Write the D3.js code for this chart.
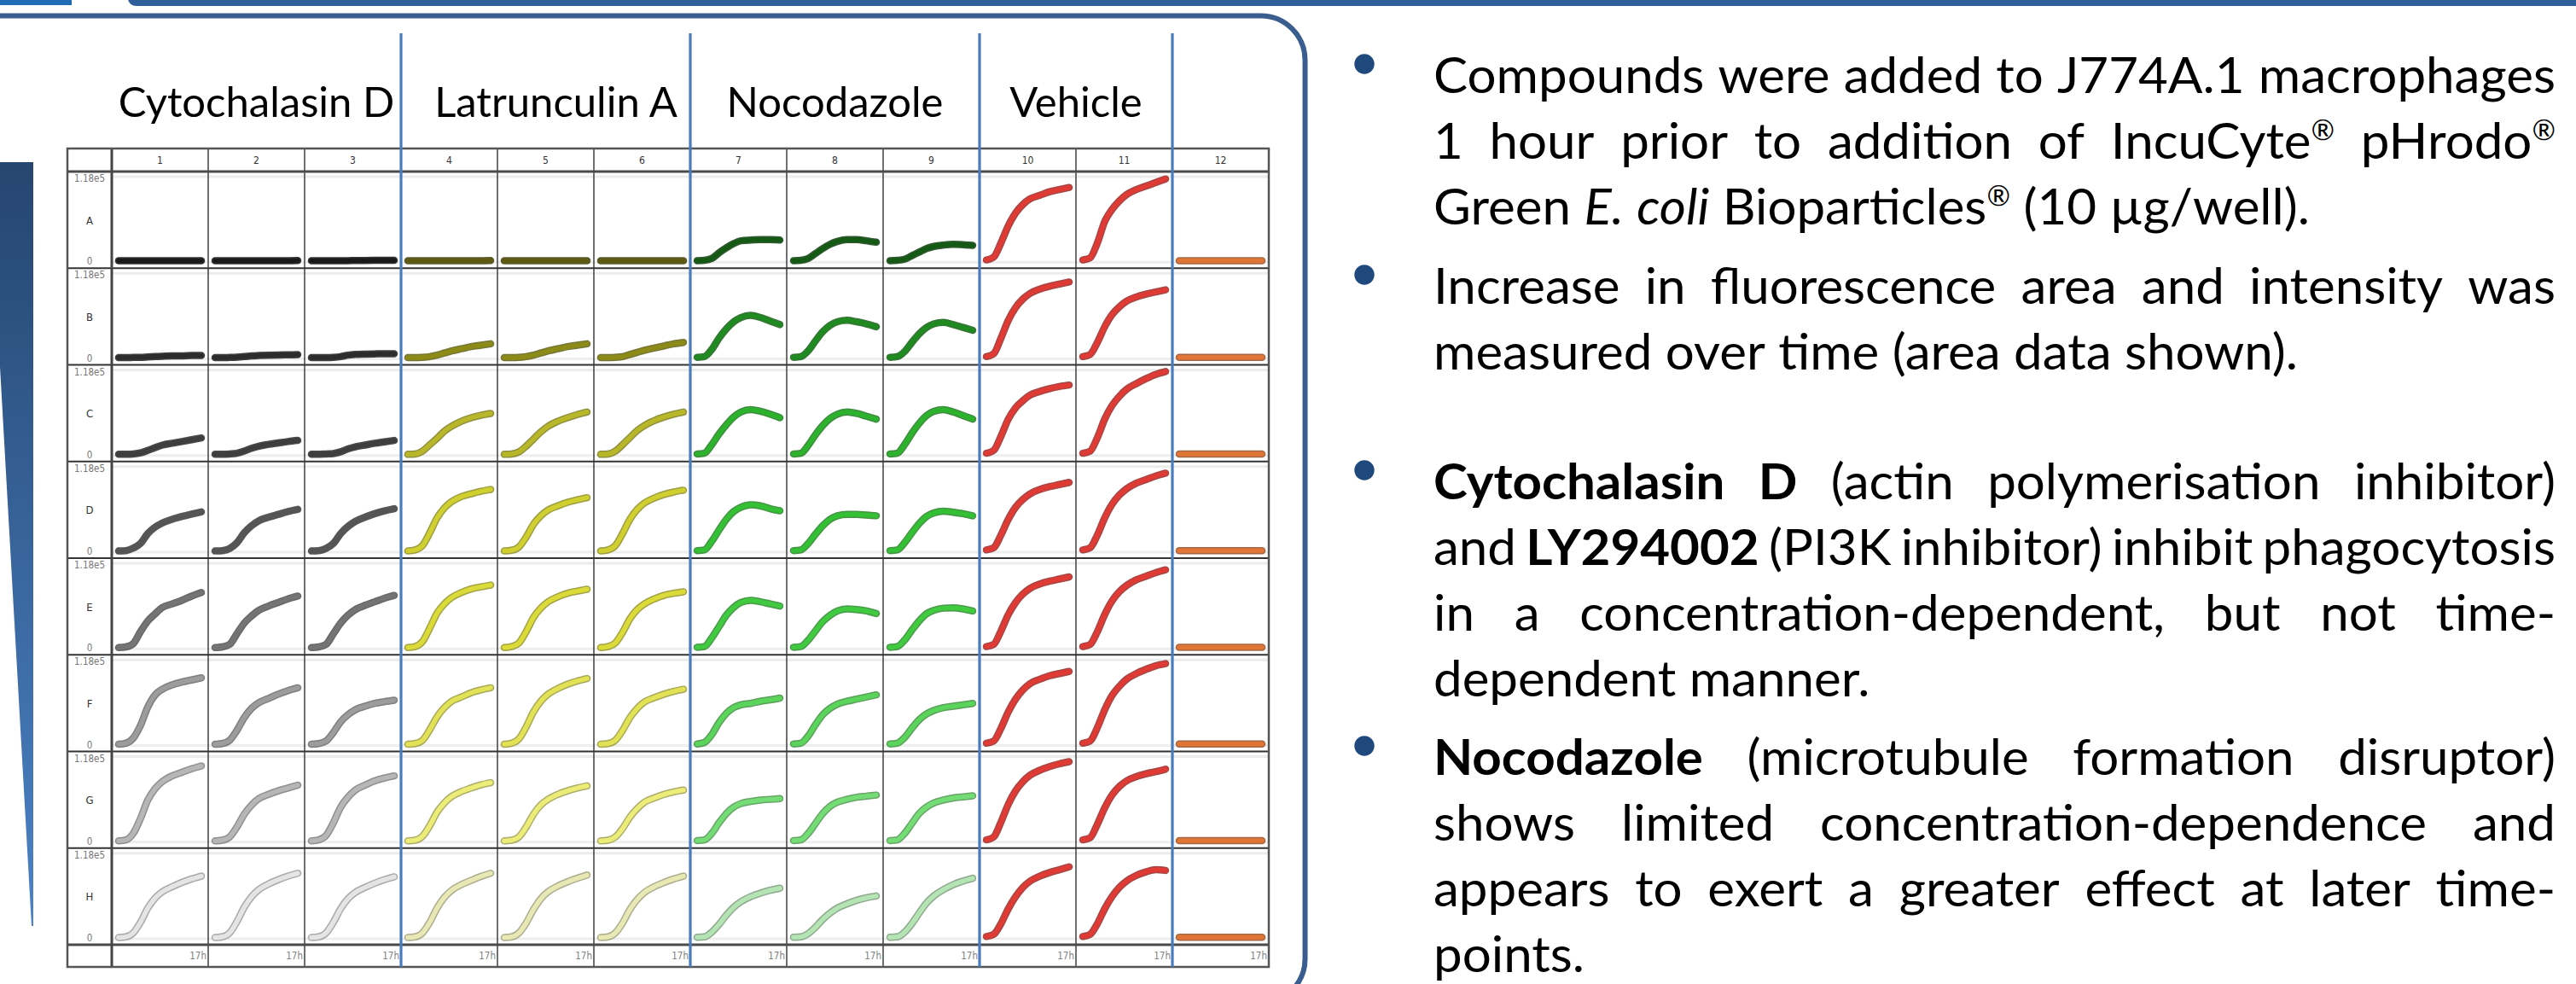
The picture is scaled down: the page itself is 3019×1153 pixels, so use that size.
<!DOCTYPE html>
<html>
<head>
<meta charset="utf-8">
<script src="https://cdn.jsdelivr.net/npm/d3@7"></script>
<style>
  body { margin: 0; background: #fff; }
  svg { display: block; }
</style>
</head>
<body>
<div id="chart"></div>
<script>
// ---- data -------------------------------------------------------------
const times = [0, 1.5, 3, 4.5, 6, 7.5, 9, 11, 13, 15, 17];      // hours
const rowLabels = ['A', 'B', 'C', 'D', 'E', 'F', 'G', 'H'];
const colLabels = ['1', '2', '3', '4', '5', '6', '7', '8', '9', '10', '11', '12'];
const groupNames = ['Cytochalasin D', 'Latrunculin A', 'Nocodazole', 'Vehicle'];
const groupFirstCol = [0, 3, 6, 9];
const groupEndCol = [3, 6, 9, 11];
const axisMax = 118;            // fluorescence area, x1000 (1.18e5)
const axisMaxLabel = '1.18e5';
const axisMinLabel = '0';
const timeEndLabel = '17h';

// fluorescence area (x1000) per row A..H, wells in column order
const cytochalasinD = [
  [[1,1,1,1,1,1,1,1,1,1,1], [1,1,1,1,1,1,1,1,1,1,1.2], [1,1,1,1,1,1,1.2,1.3,1.4,1.5,1.5]],
  [[0.5,0.5,0.8,1,1.5,2,2.5,3,3,3.5,3.5], [0.5,0.5,0.8,1.2,2,3,3.5,4,4.3,4.5,4.7], [0.5,0.5,0.6,1,2,4,5,5.5,5.8,6,6]],
  [[0.5,0.5,1,2.5,6,10,13.5,16,18.5,21,23.5], [0.5,0.5,1,2,5,9,12,14.5,16.5,18.5,20], [0.5,0.5,1,1.5,4,8,11,13.5,16,18,20]],
  [[0.5,1,4.5,11,25,34,40,45,49,52.5,55.5], [0.5,1,4,12,26,36,43,48,52,56,59], [0.5,1,4,11,25,35,42,48,53,57,60]],
  [[0.5,1.5,6,23,38,48,57,62,67,73,78], [0.5,1.5,5,20,35,45,53,59,64,69,73], [0.5,1.5,5,20,35,46,54,60,65,70,74]],
  [[0.5,2,9,27,53,70,78,84,88,91,94], [0.5,1.5,6,20,38,51,59,65,71,76,80], [0.5,1.5,5,17,32,42,49,54,58,60.5,62.5]],
  [[0.5,2,11,32,58,74,84,92,97,102,106], [0.5,1.5,6,20,38,51,60,66,71,75,79], [0.5,2,8,26,48,62,72,79,85,89,92]],
  [[0.5,1.5,7,22,42,56,65,72,78,83,87], [0.5,1.5,7,23,43,58,68,76,82,87,91], [0.5,1.5,7,22,41,55,64,71,77,82,86]]
];
const latrunculinA = [
  [[1,1,1,1,1,1,1,1,1,1,1.2], [1,1,1,1,1,1,1,1,1,1,1], [1,1,1,1,1,1,1,1,1,1,1]],
  [[0.5,0.5,1,2,4,7,10,13,16,18,20], [0.5,0.5,0.8,2,4,7,10,13,16,18,20], [0.5,0.5,1,2,5,8,11,14,17,20,22]],
  [[0.5,1,5,14,23,33,40,47,52,55.5,58], [0.5,1,4,12,22,32,40,47,52,56.5,60], [0.5,1,5,14,24,34,41,48,53,57,60]],
  [[0.5,2,8,26,47,61,70,77,81,84.5,87], [0.5,1.5,6,20,38,50,58,64,69,72.5,75.5], [0.5,2,8,25,45,59,68,75,80,83.5,86]],
  [[0.5,2,9,28,49,62,71,78,83,86,88.5], [0.5,2,7,23,43,56,65,72,77,80,82.5], [0.5,2,7,22,41,54,62,69,74,77,79]],
  [[0.5,1.5,6,21,39,52,61,67,73,77,80], [0.5,2,8,25,46,61,71,79,85,89.5,93], [0.5,1.5,6,20,38,51,60,66,71,75,78]],
  [[0.5,1.5,7,22,41,54,63,70,75,79.5,82.5], [0.5,1.5,6,20,38,51,59,66,71,75,78], [0.5,1.5,6,18,34,46,55,61,66,69.5,72]],
  [[0.5,1.5,7,22,42,57,67,75,81,86.5,91], [0.5,1.5,7,21,40,55,65,73,79,84,88.5], [0.5,1.5,7,21,40,54,64,72,78,83,87]]
];
const nocodazole = [
  [[1,1.5,4,12,19,25,29,30,30.5,30.5,30], [1,1.5,4,11,18,24,28,30.5,30.5,29,27], [1,1.5,3,8,13,18,21,23,24,23.5,22.5]],
  [[1,2,12,28,41,51,57,60,57,52,47], [1,2,10,24,37,46,51,53,51,48,44], [1,2,9,22,34,43,48,50,47,43,39]],
  [[1,2,14,29,42,53,60,63.5,61,57,52], [1,2,13,28,41,51,57,60,58,54,50], [1,2,14,30,44,55,61,63.5,60,55,50]],
  [[1,2,14,30,45,56,62,65.5,64,60,57], [1,2,11,24,36,45,50,52,52,51,50], [1,2,12,26,39,49,54,56.5,55,53,50]],
  [[1,2,14,30,46,57,64,67,65,62,59], [1,2,11,24,37,46,52,55,54,52,48.5], [1,2,11,25,38,48,53,56,56.5,55,52]],
  [[1,3,14,31,44,52,56,58,61,63,65.5], [1,2,12,28,42,51,57,61,64,67,70], [1,2,10,23,35,43,48,52,54,56,58]],
  [[1,2,11,26,39,48,53,56,58,59,60], [1,2,11,25,39,49,55,59,62,63.5,65], [1,2,11,25,39,48,54,58,61,62.5,64]],
  [[1,1.5,8,19,32,43,51,58,63,67,70], [1,1.5,6,15,26,35,42,48,53,56.5,59], [1,1.5,8,20,35,49,59,68,75,80,84]]
];
const vehicle = [
  [[2,6,26,50,68,80,88,93,98,101,104], [2,5,26,56,73,85,94,101,106,111,116]],
  [[2,6,28,53,71,83,91,97,101,104,107], [2,5,22,44,61,72,80,86,90,93,96]],
  [[2,6,26,50,66,76,84,89,93,96,98], [2,5,24,50,69,82,92,100,107,113,117]],
  [[2,5,23,45,62,73,81,87,91,94,97], [2,5,23,47,66,79,88,96,101,106,110]],
  [[2,5,24,47,64,76,84,90,94,97,100], [2,5,23,47,66,79,88,96,101,106,110]],
  [[2,5,23,46,64,77,86,92,97,100,103], [2,5,24,49,69,82,92,100,106,111,114]],
  [[2,6,27,52,71,84,93,100,105,109,112], [2,5,24,47,65,77,85,91,95,98,101.5]],
  [[2,5,20,41,58,71,80,87,92,96,100], [2,5,20,41,58,71,80,88,93,96,95]]
];
const noParticles = [
  [[1,1,1,1,1,1,1,1,1,1,1]], [[1,1,1,1,1,1,1,1,1,1,1]], [[1,1,1,1,1,1,1,1,1,1,1]], [[1,1,1,1,1,1,1,1,1,1,1]],
  [[1,1,1,1,1,1,1,1,1,1,1]], [[1,1,1,1,1,1,1,1,1,1,1]], [[1,1,1,1,1,1,1,1,1,1,1]], [[1,1,1,1,1,1,1,1,1,1,1]]
];

// colour of each row (concentration) per compound
const grayShades = ['#1a1a1a', '#2c2c2c', '#3e3e3e', '#555555', '#747474', '#9c9c9c', '#b6b6b6', '#e4e4e4'];
const yellowShades = ['#5e5b10', '#8d8b18', '#b8b72a', '#d0cf30', '#dada38', '#e2e256', '#ecec78', '#e8e8b4'];
const greenShades = ['#145a14', '#1f8a1f', '#2cb22c', '#34c034', '#40ca40', '#5ad45a', '#74dc74', '#b4e4b4'];
const vehicleColor = '#e03a35';
const noParticleColor = '#e07535';

// bullet text ( *bold*  _italic_  ^superscript )
const paragraphs = [
  ['Compounds were added to J774A.1 macrophages',
   '1 hour prior to addition of IncuCyte^® pHrodo^®',
   'Green _E. coli_ Bioparticles^® (10 µg/well).'],
  ['Increase in fluorescence area and intensity was',
   'measured over time (area data shown).'],
  ['*Cytochalasin D* (actin polymerisation inhibitor)',
   'and *LY294002* (PI3K inhibitor) inhibit phagocytosis',
   'in a concentration-dependent, but not time-',
   'dependent manner.'],
  ['*Nocodazole* (microtubule formation disruptor)',
   'shows limited concentration-dependence and',
   'appears to exert a greater effect at later time-',
   'points.']
];
const paragraphGap = [0, 93, 152, 92];

// ---- layout -----------------------------------------------------------
const W = 3019, H = 1153;
const tableLeft = 79, labelW = 52, cellW = 113, cellH = 113.25;
const tableTop = 174, headerH = 27, footerH = 26;
const nCols = colLabels.length, nRows = rowLabels.length;
const tableRight = tableLeft + labelW + cellW * nCols;
const gridBottom = tableTop + headerH + cellH * nRows;
const tableBottom = gridBottom + footerH;

const svg = d3.select('#chart').append('svg')
  .attr('width', W)
  .attr('height', H);

const defs = svg.append('defs');
const grad = defs.append('linearGradient')
  .attr('id', 'wedge')
  .attr('x1', 0).attr('y1', 0).attr('x2', 0).attr('y2', 1);
grad.append('stop').attr('offset', '0%').attr('stop-color', '#25466f');
grad.append('stop').attr('offset', '100%').attr('stop-color', '#4b82c6');

// slide decoration
svg.append('rect').attr('x', -10).attr('y', -10).attr('width', 94).attr('height', 16).attr('fill', '#1f6cb4');
svg.append('rect').attr('x', 150).attr('y', -12).attr('width', 2900).attr('height', 19).attr('rx', 9).attr('fill', '#2f5f98');
svg.append('rect')
  .attr('x', -100).attr('y', 18.5)
  .attr('width', 1629.5).attr('height', 1157)
  .attr('rx', 52)
  .attr('fill', 'none')
  .attr('stroke', '#3a5d8f')
  .attr('stroke-width', 6);
svg.append('path')
  .attr('d', 'M0,190 L39,190 L39,1085 L37,1085 L0,430 Z')
  .attr('fill', 'url(#wedge)');

// scales
const colX = d3.scaleLinear().domain([0, nCols]).range([tableLeft + labelW, tableRight]);
const rowY = d3.scaleLinear().domain([0, nRows]).range([tableTop + headerH, gridBottom]);
const tX = d3.scaleLinear().domain([0, d3.max(times)]).range([8, cellW - 8]);
const vY = d3.scaleLinear().domain([0, axisMax]).range([cellH - 8, 7]);

function wellSeries(r, c) {
  if (c < 3) return {values: cytochalasinD[r][c], color: grayShades[r]};
  if (c < 6) return {values: latrunculinA[r][c - 3], color: yellowShades[r]};
  if (c < 9) return {values: nocodazole[r][c - 6], color: greenShades[r]};
  if (c < 11) return {values: vehicle[r][c - 9], color: vehicleColor};
  return {values: noParticles[r][c - 11], color: noParticleColor};
}

const wells = [];
rowLabels.forEach((row, r) => colLabels.forEach((col, c) => {
  wells.push({row: r, col: c, ...wellSeries(r, c)});
}));

const line = d3.line()
  .x((d, i) => tX(times[i]))
  .y(d => vY(d))
  .curve(d3.curveMonotoneX);

const table = svg.append('g').attr('class', 'plate');

// faint gridlines in each well
const cell = table.selectAll('.well')
  .data(wells)
  .enter().append('g')
  .attr('class', 'well')
  .attr('transform', d => `translate(${colX(d.col)},${rowY(d.row)})`);

cell.append('line')
  .attr('x1', 0).attr('x2', cellW)
  .attr('y1', vY(axisMax) - 1).attr('y2', vY(axisMax) - 1)
  .attr('stroke', '#ececec').attr('stroke-width', 3);
cell.append('line')
  .attr('x1', 0).attr('x2', cellW)
  .attr('y1', vY(0) + 1).attr('y2', vY(0) + 1)
  .attr('stroke', '#eeeeee').attr('stroke-width', 3);

cell.append('path')
  .attr('d', d => line(d.values))
  .attr('fill', 'none')
  .attr('stroke', d => d3.color(d.color).darker(1.1))
  .attr('stroke-width', 8.5)
  .attr('stroke-linecap', 'round')
  .attr('stroke-linejoin', 'round')
  .attr('stroke-opacity', 0.85);
cell.append('path')
  .attr('d', d => line(d.values))
  .attr('fill', 'none')
  .attr('stroke', d => d.color)
  .attr('stroke-width', 5.5)
  .attr('stroke-linecap', 'round')
  .attr('stroke-linejoin', 'round');

// cell borders
table.selectAll('.vline')
  .data(d3.range(1, nCols))
  .enter().append('line')
  .attr('x1', d => colX(d)).attr('x2', d => colX(d))
  .attr('y1', tableTop).attr('y2', tableBottom)
  .attr('stroke', '#222').attr('stroke-width', 1.3);
table.selectAll('.hline')
  .data(d3.range(1, nRows))
  .enter().append('line')
  .attr('x1', tableLeft).attr('x2', tableRight)
  .attr('y1', d => rowY(d)).attr('y2', d => rowY(d))
  .attr('stroke', '#333').attr('stroke-width', 2);
[rowY(0), rowY(nRows)].forEach(y => {
  table.append('line')
    .attr('x1', tableLeft).attr('x2', tableRight)
    .attr('y1', y).attr('y2', y)
    .attr('stroke', '#4a4a4a').attr('stroke-width', 3);
});
table.append('line')
  .attr('x1', colX(0)).attr('x2', colX(0))
  .attr('y1', tableTop).attr('y2', tableBottom)
  .attr('stroke', '#444').attr('stroke-width', 3);
table.append('rect')
  .attr('x', tableLeft).attr('y', tableTop)
  .attr('width', tableRight - tableLeft).attr('height', tableBottom - tableTop)
  .attr('fill', 'none').attr('stroke', '#555').attr('stroke-width', 2.5);

// plate labels
const smallFont = '"DejaVu Sans Condensed", "DejaVu Sans", sans-serif';
table.selectAll('.colnum')
  .data(colLabels)
  .enter().append('text')
  .attr('x', (d, i) => (colX(i) + colX(i + 1)) / 2)
  .attr('y', tableTop + headerH / 2 + 4.5)
  .attr('text-anchor', 'middle')
  .attr('font-family', smallFont).attr('font-size', 12)
  .attr('fill', '#333')
  .text(d => d);
table.selectAll('.timelab')
  .data(colLabels)
  .enter().append('text')
  .attr('x', (d, i) => colX(i + 1) - 2)
  .attr('y', gridBottom + 17)
  .attr('text-anchor', 'end')
  .attr('font-family', smallFont).attr('font-size', 11.5)
  .attr('fill', '#808080')
  .text(timeEndLabel);
const rowLab = table.selectAll('.rowlab')
  .data(rowLabels)
  .enter().append('g')
  .attr('transform', (d, i) => `translate(${tableLeft + labelW / 2},${rowY(i)})`);
rowLab.append('text')
  .attr('y', 12)
  .attr('text-anchor', 'middle')
  .attr('font-family', smallFont).attr('font-size', 11.5)
  .attr('fill', '#777')
  .text(axisMaxLabel);
rowLab.append('text')
  .attr('y', vY(0) + 4)
  .attr('text-anchor', 'middle')
  .attr('font-family', smallFont).attr('font-size', 11.5)
  .attr('fill', '#777')
  .text(axisMinLabel);
rowLab.append('text')
  .attr('y', cellH / 2 + 5)
  .attr('text-anchor', 'middle')
  .attr('font-family', smallFont).attr('font-size', 13)
  .attr('fill', '#333')
  .text(d => d);

// compound group separators
svg.selectAll('.sep')
  .data(groupFirstCol.slice(1).concat([groupEndCol[groupEndCol.length - 1]]))
  .enter().append('line')
  .attr('x1', d => colX(d)).attr('x2', d => colX(d))
  .attr('y1', 39).attr('y2', tableBottom)
  .attr('stroke', '#4a7bbf').attr('stroke-width', 3.2);

const titleFont = 'Lato, "Open Sans", sans-serif';
const titleG = svg.append('g');
const textG = svg.append('g');
const bulletG = svg.append('g');

// ---- text drawing (re-run once fonts are ready) -------------------------
const textLeft = 1680, textRight = 2995, fontSize = 58, supSize = 32;
const firstBaseline = 109, lineStep = 77;
const referenceLines = [[0, 2], [1, 1]];   // natural-width lines, ~1020px wide
const referenceWidth = 1020;

function parseLine(src) {
  const words = [];
  let word = [], bold = false, italic = false, sup = false;
  for (const ch of src) {
    if (ch === '*') { bold = !bold; continue; }
    if (ch === '_') { italic = !italic; continue; }
    if (ch === '^') { sup = true; continue; }
    if (ch === ' ') { if (word.length) words.push(word); word = []; continue; }
    const last = word[word.length - 1];
    if (last && last.bold === bold && last.italic === italic && last.sup === sup) last.text += ch;
    else word.push({text: ch, bold, italic, sup});
    sup = false;
  }
  if (word.length) words.push(word);
  return words;
}

function styleSeg(sel, seg) {
  return sel
    .attr('font-family', titleFont)
    .attr('font-size', seg.sup ? supSize : fontSize)
    .attr('font-weight', seg.bold ? 700 : 400)
    .attr('font-style', seg.italic ? 'italic' : 'normal')
    .attr('fill', '#000');
}

function drawText() {
  titleG.selectAll('*').remove();
  textG.selectAll('*').remove();
  bulletG.selectAll('*').remove();
  textG.attr('transform', null);

  titleG.selectAll('text')
    .data(groupNames)
    .enter().append('text')
    .attr('x', (d, i) => (colX(groupFirstCol[i]) + colX(groupEndCol[i])) / 2 + (i === 1 ? 12 : 0))
    .attr('y', 137)
    .attr('text-anchor', 'middle')
    .attr('font-family', titleFont).attr('font-size', 49)
    .attr('fill', '#000')
    .text(d => d);

  function measure(str, seg) {
    const t = styleSeg(textG.append('text'), seg).text(str);
    const w = t.node().getComputedTextLength();
    t.remove();
    return w;
  }
  const plain = {bold: false, italic: false, sup: false};
  const spaceW = measure('n n', plain) - measure('nn', plain);

  const parsed = paragraphs.map(p => p.map(parseLine));
  parsed.forEach(p => p.forEach(words => words.forEach(w => w.forEach(seg => {
    seg.width = measure(seg.text, seg);
  }))));
  const wordWidth = w => d3.sum(w, s => s.width);
  const lineNatural = words => d3.sum(words, wordWidth) + spaceW * (words.length - 1);
  const sx = referenceWidth / d3.mean(referenceLines, ([p, l]) => lineNatural(parsed[p][l]));
  const avail = (textRight - textLeft) / sx;
  textG.attr('transform', `translate(${textLeft},0) scale(${sx},1)`);

  let baseline = firstBaseline;
  parsed.forEach((para, pi) => {
    baseline += paragraphGap[pi];
    bulletG.append('circle')
      .attr('cx', 1599).attr('cy', baseline - 34).attr('r', 11.7)
      .attr('fill', '#1f497d');
    para.forEach((words, li) => {
      if (li > 0) baseline += lineStep;
      const justify = li < para.length - 1;
      const gap = justify && words.length > 1
        ? (avail - d3.sum(words, wordWidth)) / (words.length - 1)
        : spaceW;
      let x = 0;
      words.forEach(w => {
        w.forEach(seg => {
          styleSeg(textG.append('text'), seg)
            .attr('x', x)
            .attr('y', seg.sup ? baseline - 22 : baseline)
            .text(seg.text);
          x += seg.width;
        });
        x += gap;
      });
    });
  });
}

drawText();
if (document.fonts) {
  Promise.all([
    document.fonts.load(`400 ${fontSize}px Lato`),
    document.fonts.load(`700 ${fontSize}px Lato`),
    document.fonts.load(`italic 400 ${fontSize}px Lato`)
  ]).then(drawText, () => {});
}
</script>
</body>
</html>
